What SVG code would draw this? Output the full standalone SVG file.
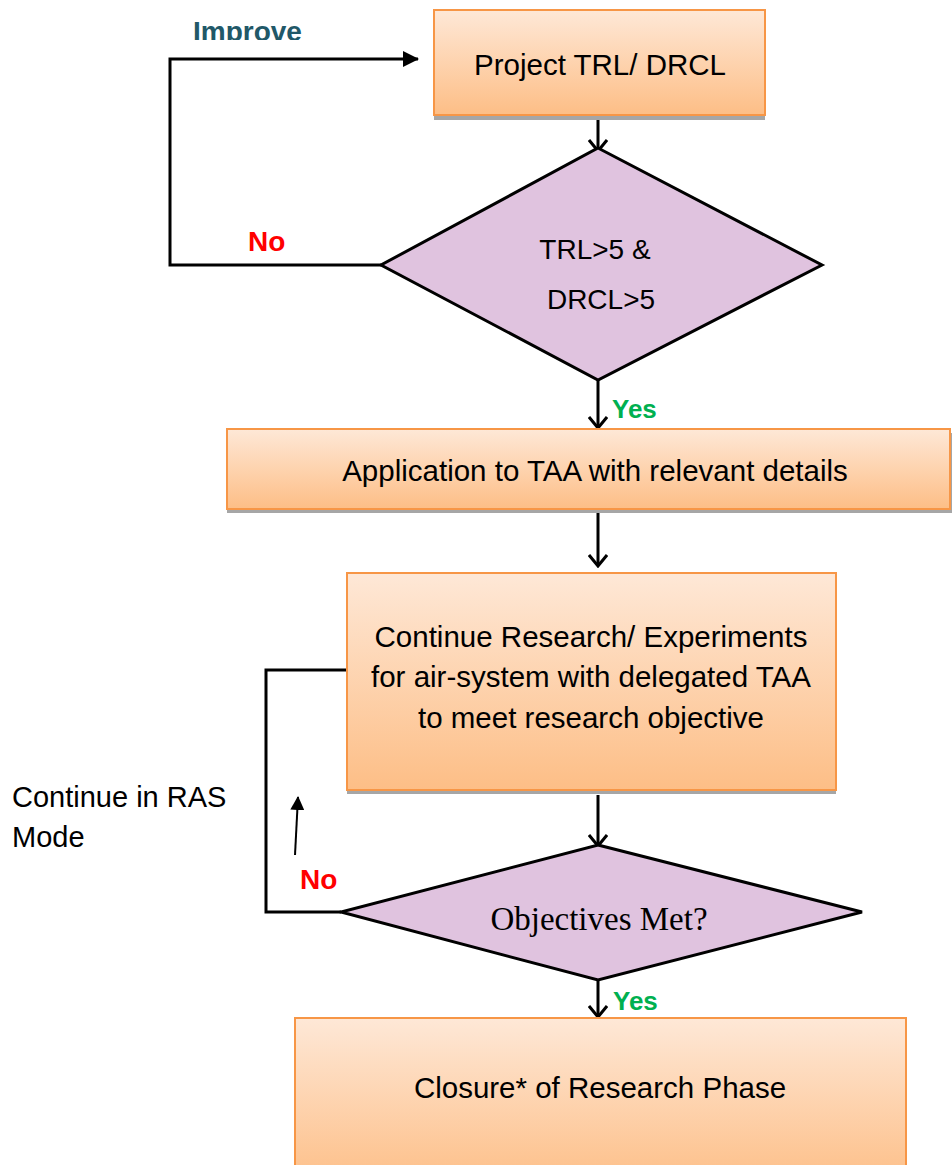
<svg xmlns="http://www.w3.org/2000/svg" width="952" height="1165" viewBox="0 0 952 1165">
<defs>
<linearGradient id="peach" x1="0" y1="0" x2="0" y2="1">
<stop offset="0" stop-color="#FEE8D7"/>
<stop offset="1" stop-color="#FDBE86"/>
</linearGradient>
<marker id="openV" viewBox="0 0 14 20" refX="12" refY="10" markerWidth="14" markerHeight="20" markerUnits="userSpaceOnUse" orient="auto">
<path d="M1,1 L12,10 L1,19" fill="none" stroke="#000" stroke-width="3"/>
</marker>
<marker id="solid" viewBox="0 0 16 16" refX="15" refY="8" markerWidth="16" markerHeight="16" markerUnits="userSpaceOnUse" orient="auto">
<path d="M0,0 L16,8 L0,16 Z" fill="#000"/>
</marker>
<marker id="solidSmall" viewBox="0 0 14 14" refX="13" refY="7" markerWidth="14" markerHeight="14" markerUnits="userSpaceOnUse" orient="auto">
<path d="M0,0 L14,7 L0,14 Z" fill="#000"/>
</marker>
<clipPath id="clipImprove"><rect x="0" y="0" width="400" height="40"/></clipPath>
</defs>
<style>
.box{fill:url(#peach);stroke:#F79646;stroke-width:2}
.shadow{fill:#A6A6A6}
.dia{fill:#E0C3DF;stroke:#000;stroke-width:3;stroke-linejoin:miter}
.t{font-family:"Liberation Sans",Arial,sans-serif;font-size:29.5px;fill:#000;text-anchor:middle}
.serif{font-family:"Liberation Serif","Times New Roman",serif;font-size:33px;fill:#000;text-anchor:middle}
.lbl{font-family:"Liberation Sans",Arial,sans-serif;font-weight:bold;font-size:28px}
.no{fill:#FF0000}
.yes{fill:#00B050;font-size:26px}
.conn{fill:none;stroke:#000;stroke-width:3}
</style>
<g id="connectors">
<polyline class="conn" points="381,265 170,265 170,59 418,59" marker-end="url(#solid)"/>
<line class="conn" x1="598" y1="107" x2="598" y2="151" marker-end="url(#openV)"/>
<line class="conn" x1="598" y1="380" x2="598" y2="428" marker-end="url(#openV)"/>
<line class="conn" x1="598" y1="512" x2="598" y2="566" marker-end="url(#openV)"/>
<line class="conn" x1="598" y1="795" x2="598" y2="846" marker-end="url(#openV)"/>
<line class="conn" x1="598" y1="980" x2="598" y2="1017" marker-end="url(#openV)"/>
<polyline class="conn" points="347,670 266,670 266,912 341,912"/>
<line x1="295" y1="855" x2="298" y2="797" stroke="#000" stroke-width="2" marker-end="url(#solidSmall)"/>
</g>
<g id="improve-label">
<text class="lbl" x="193" y="41" fill="#215868" clip-path="url(#clipImprove)">Improve</text>
</g>
<g id="node-project">
<rect class="shadow" x="434" y="14" width="331" height="106"/>
<rect class="box" x="434" y="10" width="331" height="105"/>
<text class="t" x="600" y="75">Project TRL/ DRCL</text>
</g>
<g id="node-decision1">
<polygon class="dia" points="598,148 822,265 598,380 381,265"/>
<text class="t" x="595" y="259" style="font-size:28px">TRL&gt;5 &amp;</text>
<text class="t" x="601" y="309" style="font-size:28px">DRCL&gt;5</text>
</g>
<g id="label-no1"><text class="lbl no" x="248" y="251">No</text></g>
<g id="label-yes1"><text class="lbl yes" x="612" y="418">Yes</text></g>
<g id="node-application">
<rect class="shadow" x="227" y="433" width="730" height="80"/>
<rect class="box" x="227" y="429" width="723" height="80"/>
<text class="t" x="595" y="481">Application to TAA with relevant details</text>
</g>
<g id="node-research">
<rect class="shadow" x="347" y="577" width="489" height="217"/>
<rect class="box" x="347" y="573" width="489" height="217"/>
<text class="t" x="591" y="647">Continue Research/ Experiments</text>
<text class="t" x="591" y="687">for air-system with delegated TAA</text>
<text class="t" x="591" y="728">to meet research objective</text>
</g>
<g id="label-ras">
<text x="12" y="807" style="font-family:'Liberation Sans',Arial,sans-serif;font-size:29px">Continue in RAS</text>
<text x="12" y="847" style="font-family:'Liberation Sans',Arial,sans-serif;font-size:29px">Mode</text>
</g>
<g id="label-no2"><text class="lbl no" x="300" y="889">No</text></g>
<g id="node-decision2">
<polygon class="dia" points="598,845 862,912 598,980 341,912"/>
<text class="serif" x="599" y="930">Objectives Met?</text>
</g>
<g id="label-yes2"><text class="lbl yes" x="613" y="1010">Yes</text></g>
<g id="node-closure">
<rect class="box" x="295" y="1018" width="611" height="170"/>
<text class="t" x="600" y="1098">Closure* of Research Phase</text>
</g>
</svg>
